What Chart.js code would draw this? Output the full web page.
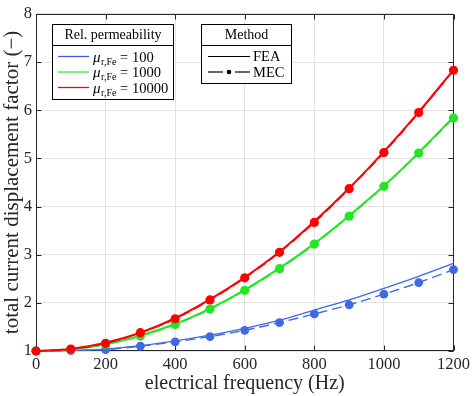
<!DOCTYPE html>
<html>
<head>
<meta charset="utf-8">
<script src="https://cdn.jsdelivr.net/npm/chart.js@4.4.1/dist/chart.umd.min.js"></script>
<style>
  html, body { margin: 0; padding: 0; background: #fff; }
  #wrap { width: 474px; height: 396px; }
</style>
</head>
<body>
<div id="wrap"><canvas id="chart" width="474" height="396"></canvas></div>
<script>
// electrical frequency (Hz)
const freq = [0, 100, 200, 300, 400, 500, 600, 700, 800, 900, 1000, 1100, 1200];

// total current displacement factor, FEA (solid) and MEC (dashed + markers)
const feaMu100   = [1, 1.01, 1.04, 1.11, 1.21, 1.33, 1.47, 1.64, 1.85, 2.06, 2.30, 2.55, 2.82];
const mecMu100   = [1, 1.01, 1.03, 1.10, 1.19, 1.30, 1.43, 1.59, 1.77, 1.96, 2.18, 2.42, 2.69];
const feaMu1000  = [1, 1.03, 1.14, 1.32, 1.56, 1.88, 2.27, 2.72, 3.23, 3.81, 4.43, 5.12, 5.86];
const mecMu1000  = [1, 1.03, 1.14, 1.31, 1.55, 1.87, 2.26, 2.71, 3.22, 3.80, 4.42, 5.11, 5.84];
const feaMu10000 = [1, 1.04, 1.17, 1.38, 1.68, 2.07, 2.53, 3.06, 3.69, 4.38, 5.14, 5.96, 6.84];
const mecMu10000 = [1, 1.04, 1.16, 1.38, 1.67, 2.06, 2.52, 3.05, 3.67, 4.37, 5.12, 5.95, 6.83];

const permeabilities = ['100', '1000', '10000'];
const methods = ['FEA', 'MEC'];
const colors = ['#4169e1', '#22e622', '#ff0000'];
const legendColors = ['#3d5ee0', '#33ee33', '#e01010'];

const serif = '"Liberation Serif", "Times New Roman", serif';

function pts(ys) {
  return freq.map((f, i) => ({ x: f, y: ys[i] }));
}

function fea(ys, c, w) {
  return { data: pts(ys), borderColor: c, borderWidth: w, pointRadius: 0, fill: false,
           cubicInterpolationMode: 'monotone', clip: false };
}
function mec(ys, c, w, r) {
  return { data: pts(ys), borderColor: c, borderWidth: w, borderDash: [10, 5],
           pointRadius: r, pointBackgroundColor: c, pointBorderWidth: 0, pointHoverRadius: r,
           fill: false, cubicInterpolationMode: 'monotone', clip: false };
}

// datasets earlier in the list are drawn on top
const datasets = [
  mec(mecMu10000, colors[2], 1.6, 4.6),
  fea(feaMu10000, colors[2], 2),
  mec(mecMu1000, colors[1], 1.6, 4.6),
  fea(feaMu1000, colors[1], 2),
  mec(mecMu100, colors[0], 1.4, 4.4),
  fea(feaMu100, colors[0], 1.3),
];

function mathLabel(ctx, x, y, value) {
  ctx.textAlign = 'left';
  ctx.textBaseline = 'alphabetic';
  ctx.fillStyle = '#000';
  ctx.font = 'italic 15px ' + serif;
  ctx.fillText('\u03bc', x, y);
  x += ctx.measureText('\u03bc').width + 0.5;
  ctx.font = '10px ' + serif;
  ctx.fillText('r,Fe', x, y + 3);
  x += ctx.measureText('r,Fe').width;
  ctx.font = '14.5px ' + serif;
  ctx.fillText(' = ' + value, x, y);
}

function legendBox(ctx, x, y, w, h, sepY, title) {
  ctx.fillStyle = '#fff';
  ctx.fillRect(x, y, w, h);
  ctx.strokeStyle = '#000';
  ctx.lineWidth = 1;
  ctx.setLineDash([]);
  ctx.strokeRect(x + 0.5, y + 0.5, w, h);
  ctx.beginPath();
  ctx.moveTo(x, sepY + 0.5);
  ctx.lineTo(x + w, sepY + 0.5);
  ctx.stroke();
  ctx.fillStyle = '#000';
  ctx.font = '14px ' + serif;
  ctx.textAlign = 'center';
  ctx.textBaseline = 'middle';
  ctx.fillText(title, x + w / 2 + 0.5, (y + sepY) / 2 + 1);
}

function seg(ctx, x1, y1, x2, y2) {
  ctx.beginPath();
  ctx.moveTo(x1, y1);
  ctx.lineTo(x2, y2);
  ctx.stroke();
}

const axesBox = {
  id: 'axesBox',
  beforeDatasetsDraw(chart) {
    const { ctx, chartArea: a, scales } = chart;
    ctx.save();
    ctx.strokeStyle = '#262626';
    ctx.lineWidth = 1;
    const L = Math.round(a.left) + 0.5, R = Math.round(a.right) - 0.5;
    const T = Math.round(a.top) + 0.5, B = Math.round(a.bottom) - 0.5;
    ctx.strokeRect(L, T, R - L, B - T);
    const tl = 5;
    scales.x.ticks.forEach(t => {
      const px = Math.round(scales.x.getPixelForValue(t.value)) + 0.5;
      seg(ctx, px, B, px, B - tl);
      seg(ctx, px, T, px, T + tl);
    });
    scales.y.ticks.forEach(t => {
      const py = Math.round(scales.y.getPixelForValue(t.value)) + 0.5;
      seg(ctx, L, py, L + tl, py);
      seg(ctx, R, py, R - tl, py);
    });
    ctx.restore();
  },
  afterDraw(chart) {
    const ctx = chart.ctx;
    ctx.save();
    // left legend: relative permeability
    legendBox(ctx, 52, 24, 121, 75, 45, 'Rel. permeability');
    permeabilities.forEach((p, i) => {
      const y = 56.5 + i * 15.5;
      ctx.strokeStyle = legendColors[i];
      ctx.lineWidth = 1.3;
      ctx.setLineDash([]);
      seg(ctx, 58, y, 89, y);
      mathLabel(ctx, 93, y + 5, p);
    });
    // right legend: method
    legendBox(ctx, 201, 24, 90, 59, 45, 'Method');
    ctx.strokeStyle = '#000';
    ctx.lineWidth = 1.2;
    const y1 = 56.5, y2 = 72;
    seg(ctx, 208, y1, 250, y1);
    seg(ctx, 208, y2, 223, y2);
    seg(ctx, 235, y2, 250, y2);
    ctx.fillStyle = '#000';
    ctx.beginPath();
    ctx.arc(229, y2, 2.3, 0, Math.PI * 2);
    ctx.fill();
    ctx.font = '14.5px ' + serif;
    ctx.textAlign = 'left';
    ctx.textBaseline = 'middle';
    ctx.fillText(methods[0], 253, y1 + 1);
    ctx.fillText(methods[1], 253, y2 + 1);
    ctx.restore();
  }
};

new Chart(document.getElementById('chart').getContext('2d'), {
  type: 'line',
  data: { datasets: datasets },
  plugins: [axesBox],
  options: {
    responsive: false,
    animation: false,
    devicePixelRatio: 1,
    layout: { padding: { top: 8, right: 18, left: 0, bottom: 0 } },
    plugins: {
      legend: { display: false },
      tooltip: { enabled: false }
    },
    scales: {
      x: {
        type: 'linear',
        min: 0,
        max: 1200,
        afterFit: s => { s.height = 45; },
        grid: { color: '#e3e3e3', drawTicks: false },
        border: { display: false },
        ticks: { stepSize: 200, padding: 4, color: '#262626', maxRotation: 0,
                 callback: v => String(v),
                 font: { family: serif, size: 16.5 } },
        title: {
          display: true,
          text: 'electrical frequency (Hz)',
          color: '#262626',
          padding: 0,
          font: { family: serif, size: 20, lineHeight: 1.2 }
        }
      },
      y: {
        type: 'linear',
        min: 1,
        max: 8,
        afterFit: s => { s.width = 36; },
        grid: { color: '#e3e3e3', drawTicks: false },
        border: { display: false },
        ticks: { stepSize: 1, padding: 4, color: '#262626',
                 callback: v => String(v),
                 font: { family: serif, size: 16.5 } },
        title: {
          display: true,
          text: 'total current displacement factor (\u2212)',
          color: '#262626',
          padding: 0,
          font: { family: serif, size: 21, lineHeight: 1.15 }
        }
      }
    }
  }
});
</script>
</body>
</html>
